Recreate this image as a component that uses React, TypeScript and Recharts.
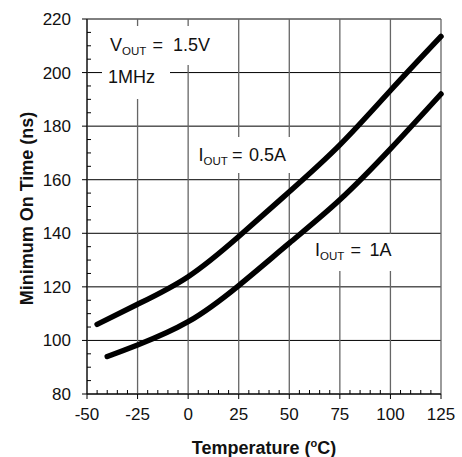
import { LineChart, Line, XAxis, YAxis, CartesianGrid, Label } from 'recharts'

// I_OUT = 0.5A curve
const tempA = [-45, -25, 0, 25, 50, 75, 100, 125]
const onTimeA = [106, 113.5, 123.8, 138.8, 155.5, 173, 193.3, 213.5]
// I_OUT = 1A curve
const tempB = [-40, -25, 0, 25, 50, 75, 100, 125]
const onTimeB = [94, 98.3, 107, 120.5, 136.3, 152.5, 171.5, 192]

const xMajor = [-50, -25, 0, 25, 50, 75, 100, 125]
const yMajor = [80, 100, 120, 140, 160, 180, 200, 220]
const xMinor = Array.from({ length: 36 }, (_, i) => -50 + i * 5)
const yMinor = Array.from({ length: 29 }, (_, i) => 80 + i * 5)

const seriesA = tempA.map((t, i) => ({ t, v: onTimeA[i] }))
const seriesB = tempB.map((t, i) => ({ t, v: onTimeB[i] }))

const FONT = '"Liberation Sans", Arial, sans-serif'
const INK = '#111'

// eslint-disable-next-line @typescript-eslint/no-explicit-any
function XTick({ x, y, payload }: any) {
  const major = xMajor.includes(payload.value)
  return (
    <g>
      {major
        ? <line x1={x} x2={x} y1={y} y2={y + 5} stroke="#000" />
        : <line x1={x} x2={x} y1={y} y2={y - 4} stroke="#000" />}
      {major && (
        <text x={x} y={y + 25.5} textAnchor="middle" fontSize={17} fontFamily={FONT} fill={INK}>{payload.value}</text>
      )}
    </g>
  )
}

// eslint-disable-next-line @typescript-eslint/no-explicit-any
function YTick({ x, y, payload }: any) {
  const major = yMajor.includes(payload.value)
  return (
    <g>
      {major
        ? <line x1={x - 5} x2={x} y1={y} y2={y} stroke="#000" />
        : <line x1={x} x2={x + 4} y1={y} y2={y} stroke="#000" />}
      {major && (
        <text x={x - 16} y={y + 6} textAnchor="end" fontSize={17} fontFamily={FONT} fill={INK}>{payload.value}</text>
      )}
    </g>
  )
}

// eslint-disable-next-line @typescript-eslint/no-explicit-any
function XTitle({ viewBox }: any) {
  const cx = viewBox.x + viewBox.width / 2
  return (
    <text x={cx} y={viewBox.y + 60} textAnchor="middle" fontSize={18} fontWeight="bold" fontFamily={FONT} fill={INK}>
      Temperature (<tspan fontSize={11} dy={-7}>o</tspan><tspan dy={7}>C)</tspan>
    </text>
  )
}

// eslint-disable-next-line @typescript-eslint/no-explicit-any
function YTitle({ viewBox }: any) {
  const cy = viewBox.y + viewBox.height / 2 + 2
  const cx = 33
  return (
    <text x={cx} y={cy} transform={`rotate(-90 ${cx} ${cy})`} textAnchor="middle" fontSize={18} fontWeight="bold" fontFamily={FONT} fill={INK}>
      Minimum On Time (ns)
    </text>
  )
}

function Notes() {
  const txt = { fontSize: 18, fontFamily: FONT, fill: INK }
  return (
    <svg width={462} height={457} style={{ position: 'absolute', left: 0, top: 0, pointerEvents: 'none' }}>
      <rect x={100} y={26} width={116} height={39} fill="#fff" />
      <rect x={102} y={65} width={68} height={34} fill="#fff" />
      <text x={110} y={51} {...txt}>V<tspan fontSize={11.5} dy={4}>OUT</tspan><tspan x={152.5} dy={-4}>=</tspan><tspan x={173}>1.5V</tspan></text>
      <text x={108} y={83} {...txt}>1MHz</text>

      <rect x={193} y={137} width={103} height={36} fill="#fff" />
      <text x={198.5} y={160.5} {...txt}>I<tspan fontSize={11.5} dy={4}>OUT</tspan><tspan x={232} dy={-4}>=</tspan><tspan x={249}>0.5A</tspan></text>

      <rect x={310} y={234} width={92} height={37} fill="#fff" />
      <text x={315} y={256.3} {...txt}>I<tspan fontSize={11.5} dy={4}>OUT</tspan><tspan x={350.5} dy={-4}>=</tspan><tspan x={369.5}>1A</tspan></text>
    </svg>
  )
}

export default function App() {
  return (
    <div style={{ position: 'absolute', left: 0, top: 0, width: 462, height: 457, background: '#fff' }}>
      <LineChart width={462} height={457} margin={{ top: 19, right: 21, left: 0, bottom: 0 }}>
        <CartesianGrid horizontal vertical={false} horizontalValues={yMajor} stroke="#000" strokeWidth={1} />
        <CartesianGrid horizontal={false} vertical verticalValues={xMajor} stroke="#666" strokeWidth={1.3} />
        <XAxis
          type="number" dataKey="t" domain={[-50, 125]} ticks={xMinor} interval={0}
          tickSize={0} tickMargin={0} tickLine={false} tick={<XTick />}
          axisLine={{ stroke: '#000' }} height={63} allowDuplicatedCategory={false}
        >
          <Label content={<XTitle />} />
        </XAxis>
        <YAxis
          type="number" domain={[80, 220]} ticks={yMinor} interval={0}
          tickSize={0} tickMargin={0} tickLine={false} tick={<YTick />}
          axisLine={{ stroke: '#000' }} width={87}
        >
          <Label content={<YTitle />} />
        </YAxis>
        <Line data={seriesA} dataKey="v" type="natural" stroke="#000" strokeWidth={5.5} strokeLinecap="round" dot={false} isAnimationActive={false} />
        <Line data={seriesB} dataKey="v" type="natural" stroke="#000" strokeWidth={5.5} strokeLinecap="round" dot={false} isAnimationActive={false} />
      </LineChart>
      <Notes />
    </div>
  )
}
